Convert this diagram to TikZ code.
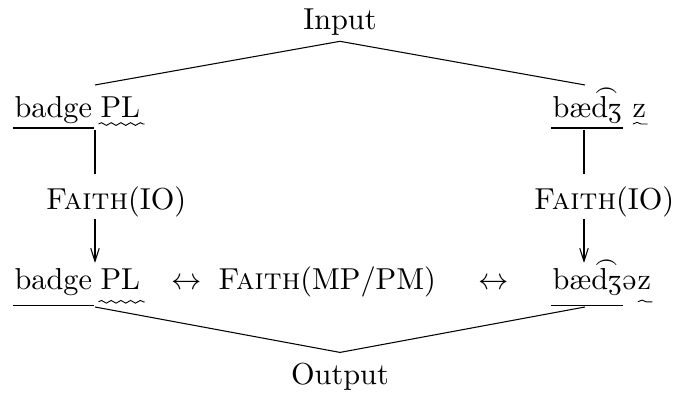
\documentclass[tikz,border=0pt]{standalone}
\usepackage{tipa}
\usetikzlibrary{arrows.meta,decorations.pathmorphing}
\begin{document}
\begin{tikzpicture}[x=0.33pt,y=-0.33pt,
  word/.style={inner sep=0pt, anchor=base west},
  label/.style={inner sep=0pt, anchor=base},
  link/.style={line width=0.35pt},
  uline/.style={line width=0.5pt},
  wave/.style={line width=0.3pt, decorate,
    decoration={snake, segment length=3.2pt, amplitude=0.45pt}},
  tilde/.style={line width=0.3pt, decorate,
    decoration={snake, segment length=4.4pt, amplitude=0.55pt}},
  flow/.style={line width=0.35pt,-{Straight Barb[length=4.3pt,width=2.8pt]}}]
\useasboundingbox (0,0) rectangle (677,394);

% top and bottom labels
\node[label, inner sep=1.6pt] (in) at (340,30) {Input};
\node[label, inner sep=3.5pt] (out) at (340,385) {Output};

% the two candidate forms, before and after faithfulness
\node[word] (sgInW) at (14,118) {badge};
\node[word] (sgInP) at (100,118) {PL};
\node[word] (plInW) at (552,118) {b\ae\textipa{\t{dZ}}};
\node[word] (plInZ) at (632,118) {z};
\node[word] (sgOutW) at (14,290) {badge};
\node[word] (sgOutP) at (100,290) {PL};
\node[word] (plOutW) at (552,290) {b\ae\textipa{\t{dZ}}};
\node[word] (plOutE) at (plOutW.base east) {\textipa{@}};
\node[word] (plOutZ) at (plOutE.base east) {z};

% underlined stems and wavy-underlined affixes
\draw[uline] ([shift={(-0.4pt,-3.3pt)}]sgInW.base west) -- ([shift={(0.4pt,-3.3pt)}]sgInW.base east);
\draw[uline] ([shift={(-0.4pt,-3.3pt)}]plInW.base west) -- ([shift={(0.4pt,-3.3pt)}]plInW.base east);
\draw[uline] ([shift={(-0.4pt,-5.2pt)}]sgOutW.base west) -- ([shift={(0.4pt,-5.2pt)}]sgOutW.base east);
\draw[uline] ([shift={(-0.4pt,-5.2pt)}]plOutW.base west) -- ([shift={(0.4pt,-5.2pt)}]plOutW.base east);
\draw[wave] ([shift={(-0.5pt,-2pt)}]sgInP.base west) -- ([shift={(1.3pt,-2pt)}]sgInP.base east);
\draw[wave] ([shift={(-0.5pt,-3.9pt)}]sgOutP.base west) -- ([shift={(1.3pt,-3.9pt)}]sgOutP.base east);
\draw[tilde] ([shift={(0.3pt,-2pt)}]plInZ.base west) -- ([shift={(0.3pt,-2pt)}]plInZ.base east);
\draw[tilde] ([shift={(0.3pt,-3.9pt)}]plOutZ.base west) -- ([shift={(0.3pt,-3.9pt)}]plOutZ.base east);

% constraint labels
\node[label] (fioL) at (116,210) {\textsc{Faith}(IO)};
\node[label] (fioR) at (604,210) {\textsc{Faith}(IO)};
\node[label] (lrL)  at (187,290) {$\leftrightarrow$};
\node[label] (fmp)  at (327,290) {\textsc{Faith}(MP/PM)};
\node[label] (lrR)  at (494,290) {$\leftrightarrow$};

% attachment points on the forms
\coordinate (sgInTop) at (95,85);
\coordinate (plInTop) at (585,85);
\coordinate (sgInBot) at (95,130);
\coordinate (plInBot) at (584,130);
\coordinate (fioLtop) at (95,174);
\coordinate (fioRtop) at (584,174);
\coordinate (fioLbot) at (95,219);
\coordinate (fioRbot) at (584,219);
\coordinate (sgOutTop) at (95,263);
\coordinate (plOutTop) at (584,263);
\coordinate (sgOutBot) at (95,307);
\coordinate (plOutBot) at (585,307);

% connectors
\draw[link] (in.south) -- (sgInTop);
\draw[link] (in.south) -- (plInTop);
\draw[link] (sgInBot) -- (fioLtop);
\draw[link] (plInBot) -- (fioRtop);
\draw[flow] (fioLbot) -- (sgOutTop);
\draw[flow] (fioRbot) -- (plOutTop);
\draw[link] (sgOutBot) -- (out.north);
\draw[link] (plOutBot) -- (out.north);
\end{tikzpicture}
\end{document}
